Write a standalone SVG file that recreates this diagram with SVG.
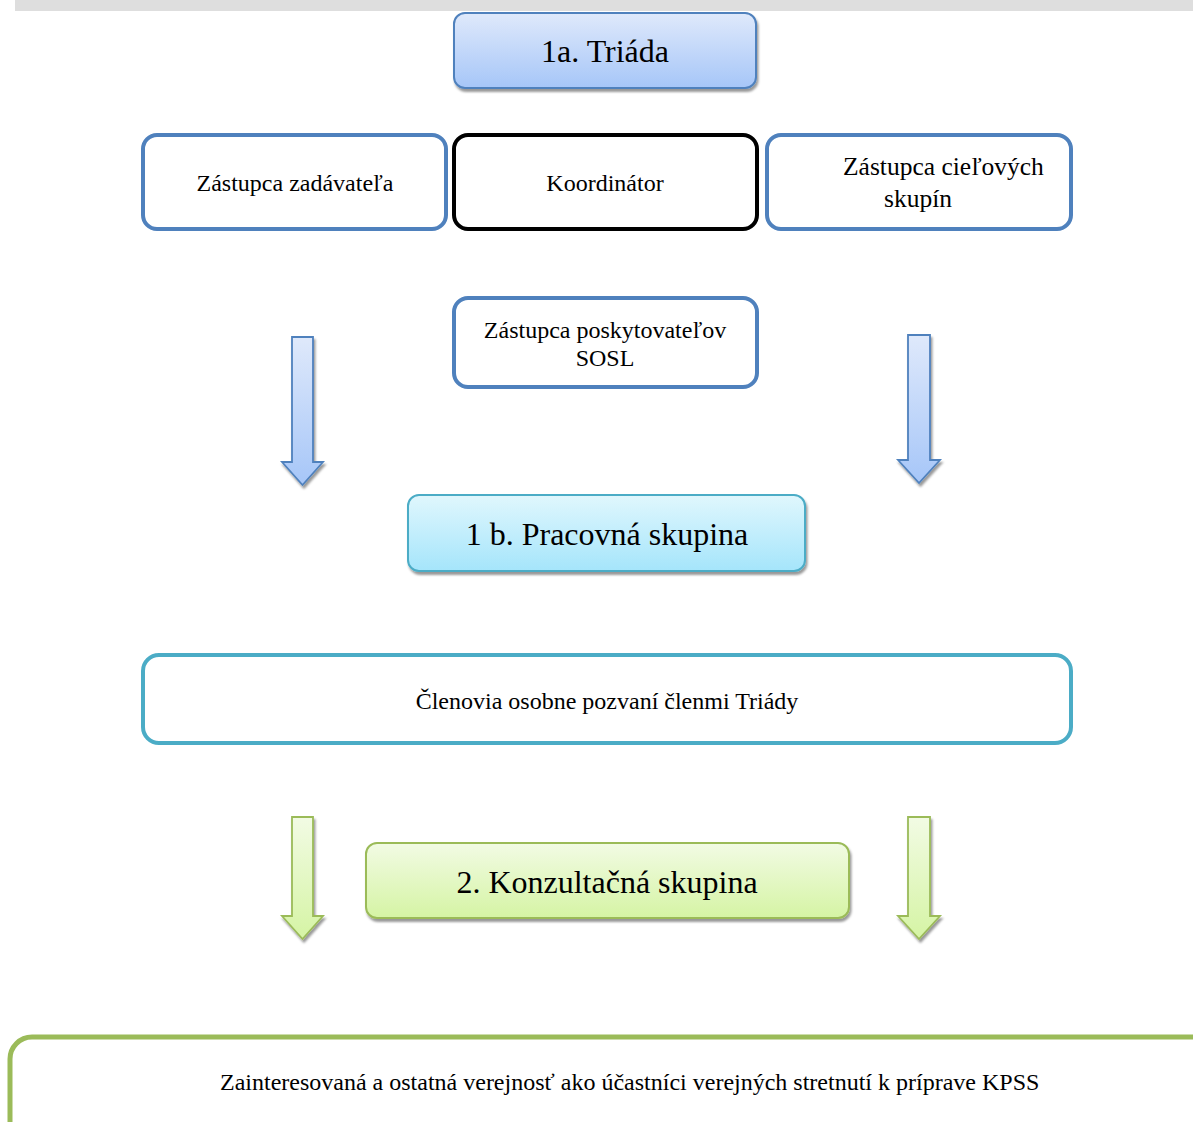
<svg xmlns="http://www.w3.org/2000/svg" width="1193" height="1122" viewBox="0 0 1193 1122">
<style>
.t{font-family:"Liberation Serif","Times New Roman",serif;fill:#000;}
.big{font-size:32px;text-anchor:middle;}
.sm{font-size:24px;}
.sm2{font-size:25.5px;}
.mid{text-anchor:middle;}
.bl{fill:#fff;stroke:#4f81bd;stroke-width:4;}
.bk{fill:#fff;stroke:#000;stroke-width:4;}
.cy{fill:#fff;stroke:#4bacc6;stroke-width:4;}
.gr{fill:#fff;stroke:#9bbb59;stroke-width:5;}
.barrow{fill:url(#gBlue);stroke:#4f81bd;stroke-width:1.8;filter:url(#sh);}
.garrow{fill:url(#gGreen);stroke:#9bbb59;stroke-width:1.8;filter:url(#sh);}
</style>
<defs>
<linearGradient id="gBlue" x1="0" y1="0" x2="0" y2="1">
<stop offset="0" stop-color="#dfe9fb"/><stop offset="1" stop-color="#a6c6f8"/>
</linearGradient>
<linearGradient id="gCyan" x1="0" y1="0" x2="0" y2="1">
<stop offset="0" stop-color="#e0f7fd"/><stop offset="1" stop-color="#a5e5fb"/>
</linearGradient>
<linearGradient id="gGreen" x1="0" y1="0" x2="0" y2="1">
<stop offset="0" stop-color="#f2fbe4"/><stop offset="1" stop-color="#d5f4a4"/>
</linearGradient>
<filter id="sh" x="-10%" y="-10%" width="130%" height="130%">
<feDropShadow dx="1.5" dy="3" stdDeviation="1.2" flood-color="#000" flood-opacity="0.4"/>
</filter>
</defs>
<rect x="15" y="0" width="1178" height="11" fill="#dedede"/>

<g id="triada">
<rect x="454" y="13" width="302" height="75" rx="11" fill="url(#gBlue)" stroke="#4f81bd" stroke-width="2" filter="url(#sh)"/>
<text class="t big" x="605" y="62">1a. Triáda</text>
</g>
<g id="zadavatel">
<rect class="bl" x="143" y="135" width="303" height="94" rx="14"/>
<text class="t sm mid" x="295" y="191">Zástupca zadávateľa</text>
</g>
<g id="koordinator">
<rect class="bk" x="454" y="135" width="303" height="94" rx="14"/>
<text class="t sm mid" x="605" y="191">Koordinátor</text>
</g>
<g id="cielove">
<rect class="bl" x="767" y="135" width="304" height="94" rx="14"/>
<text class="t sm2" x="843" y="175">Zástupca cieľových</text>
<text class="t sm2" x="884" y="207">skupín</text>
</g>
<g id="poskytovatelia">
<rect class="bl" x="454" y="298" width="303" height="89" rx="14"/>
<text class="t sm mid" x="605" y="338">Zástupca poskytovateľov</text>
<text class="t sm mid" x="605" y="366">SOSL</text>
</g>
<g id="pracovna">
<rect x="408" y="495" width="397" height="76" rx="11" fill="url(#gCyan)" stroke="#4bacc6" stroke-width="2" filter="url(#sh)"/>
<text class="t big" x="607" y="545">1 b. Pracovná skupina</text>
</g>
<g id="clenovia">
<rect class="cy" x="143" y="655" width="928" height="88" rx="16"/>
<text class="t sm mid" x="607" y="709">Členovia osobne pozvaní členmi Triády</text>
</g>
<g id="konzultacna">
<rect x="366" y="843" width="483" height="75" rx="11" fill="url(#gGreen)" stroke="#9bbb59" stroke-width="2" filter="url(#sh)"/>
<text class="t big" x="607" y="893">2. Konzultačná skupina</text>
</g>
<g id="verejnost">
<rect class="gr" x="10" y="1037" width="1220" height="120" rx="22"/>
<text class="t sm" x="220" y="1090">Zainteresovaná a ostatná verejnosť ako účastníci verejných stretnutí k príprave KPSS</text>
</g>

<g id="connectors">
<path class="barrow" d="M292 337 H313 V462 H323 L302.5 485 L282 462 H292 Z"/>
<path class="barrow" d="M908 335 H930 V460 H940 L919 483 L898 460 H908 Z"/>
<path class="garrow" d="M292 817 H313 V916 H323 L302.5 939 L282 916 H292 Z"/>
<path class="garrow" d="M908 817 H930 V916 H940 L919 939 L898 916 H908 Z"/>
</g>
</svg>
